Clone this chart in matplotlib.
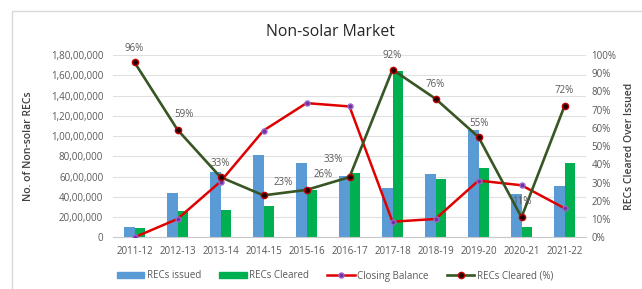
import matplotlib
matplotlib.use("Agg")
import matplotlib.pyplot as plt
from matplotlib.patches import Rectangle
from matplotlib.lines import Line2D
import numpy as np

years = ["2011-12", "2012-13", "2013-14", "2014-15", "2015-16", "2016-17",
         "2017-18", "2018-19", "2019-20", "2020-21", "2021-22"]
recs_issued = [1000000, 4350000, 6400000, 8170000, 7320000, 6060000,
               4900000, 6230000, 10600000, 4280000, 5100000]
recs_cleared = [890000, 2600000, 2670000, 3130000, 4680000, 6330000,
                16380000, 5800000, 6820000, 1050000, 7320000]
closing_balance = [0, 1810000, 5500000, 10540000, 13250000, 12920000,
                   1540000, 1810000, 5600000, 5140000, 2870000]
cleared_pct = [96, 59, 33, 23, 26, 33, 92, 76, 55, 11, 72]
pct_labels = ["96%", "59%", "33%", "23%", "26%", "33%", "92%", "76%", "55%", "11%", "72%"]
left_ticks = [0, 2000000, 4000000, 6000000, 8000000, 10000000, 12000000,
              14000000, 16000000, 18000000]
left_tick_labels = ["0", "20,00,000", "40,00,000", "60,00,000", "80,00,000",
                    "1,00,00,000", "1,20,00,000", "1,40,00,000", "1,60,00,000",
                    "1,80,00,000"]
right_ticks = [0, 10, 20, 30, 40, 50, 60, 70, 80, 90, 100]
right_tick_labels = ["0%", "10%", "20%", "30%", "40%", "50%", "60%", "70%",
                     "80%", "90%", "100%"]

plt.rcParams['font.family'] = ['Open Sans', 'DejaVu Sans']
TXT = "#595959"

fig = plt.figure(figsize=(6.42, 2.89), dpi=100)
fig.patches.append(Rectangle((12/642, -0.1), 1.0, 1 - 11/289 + 0.1,
                             transform=fig.transFigure, fill=False,
                             edgecolor="#D9D9D9", linewidth=1))

ax = fig.add_axes([113/642, 1 - 237.3/289, 473/642, (237.3 - 55)/289])
x = np.arange(len(years))
w = 0.235
ax.bar(x - w/2, recs_issued, w, color="#5B9BD5", label="RECs issued", zorder=2)
ax.bar(x + w/2, recs_cleared, w, color="#00B050", label="RECs Cleared", zorder=2)
ax.plot(x, closing_balance, color="#E00000", lw=1.8, marker="o", ms=3.6,
        mfc="#7030A0", mec="#9966CC", zorder=3)
ax.set_xlim(-0.5, len(years) - 0.5)
ax.set_ylim(0, 18000000)
ax.set_yticks(left_ticks)
ax.set_yticklabels(left_tick_labels)
ax.set_xticks(x)
ax.set_xticklabels(years)
ax.grid(axis="y", color="#E0E0E0", lw=0.8, zorder=0)
ax.set_axisbelow(True)
for s in ["top", "right", "left"]:
    ax.spines[s].set_visible(False)
ax.spines["bottom"].set_color("#C8C8C8")
ax.tick_params(axis="both", length=0, labelsize=7, colors=TXT)
ax.tick_params(axis="y", pad=7)
ax.tick_params(axis="x", pad=6)
ax.set_ylabel("No. of Non-solar RECs", fontsize=7.5, color="#404040",
              fontweight="semibold")
ax.yaxis.set_label_coords(-0.168, 0.5)

ax2 = ax.twinx()
ax2.plot(x, cleared_pct, color="#375623", lw=1.9, marker="o", ms=4.5,
         mfc="#200000", mec="#C00000", mew=1, zorder=4)
ax2.set_ylim(0, 100)
ax2.set_yticks(right_ticks)
ax2.set_yticklabels(right_tick_labels)
for s in ["top", "right", "left", "bottom"]:
    ax2.spines[s].set_visible(False)
ax2.tick_params(axis="y", length=0, labelsize=7, colors=TXT, pad=4)
ax2.set_ylabel("RECs Cleared Over Issued", fontsize=7.5, color="#404040",
               fontweight="semibold")
ax2.yaxis.set_label_coords(1.081, 0.5)

offsets = [(0, 10), (5, 11), (0, 10), (14, 9), (12, 11), (-12, 13),
           (0, 10), (0, 10), (0, 10), (0, 11), (0, 11)]
for xi, v, lab, off in zip(x, cleared_pct, pct_labels, offsets):
    ax2.annotate(lab, (xi, v), xytext=off, textcoords="offset points",
                 ha="center", va="center", fontsize=7, color=TXT, zorder=5)

fig.text(0.515, 1 - 32/289, "Non-solar Market", ha="center", va="center",
         fontsize=11.3, color="#262626")

handles = [
    Rectangle((0, 0), 1, 1, color="#5B9BD5"),
    Rectangle((0, 0), 1, 1, color="#00B050"),
    Line2D([], [], color="#E00000", lw=1.8, marker="o", ms=3.6, mfc="#7030A0", mec="#9966CC"),
    Line2D([], [], color="#375623", lw=1.9, marker="o", ms=4.5, mfc="#200000", mec="#C00000"),
]
labels = ["RECs issued", "RECs Cleared", "Closing Balance", "RECs Cleared (%)"]
leg = fig.legend(handles, labels, loc="center", bbox_to_anchor=(335/642, 1 - 276/289),
                 ncol=4, frameon=False, fontsize=7, handlelength=2.8,
                 handleheight=0.5, columnspacing=1.9, handletextpad=0.25)
for t in leg.get_texts():
    t.set_color(TXT)

fig.savefig("out.png", dpi=100)
